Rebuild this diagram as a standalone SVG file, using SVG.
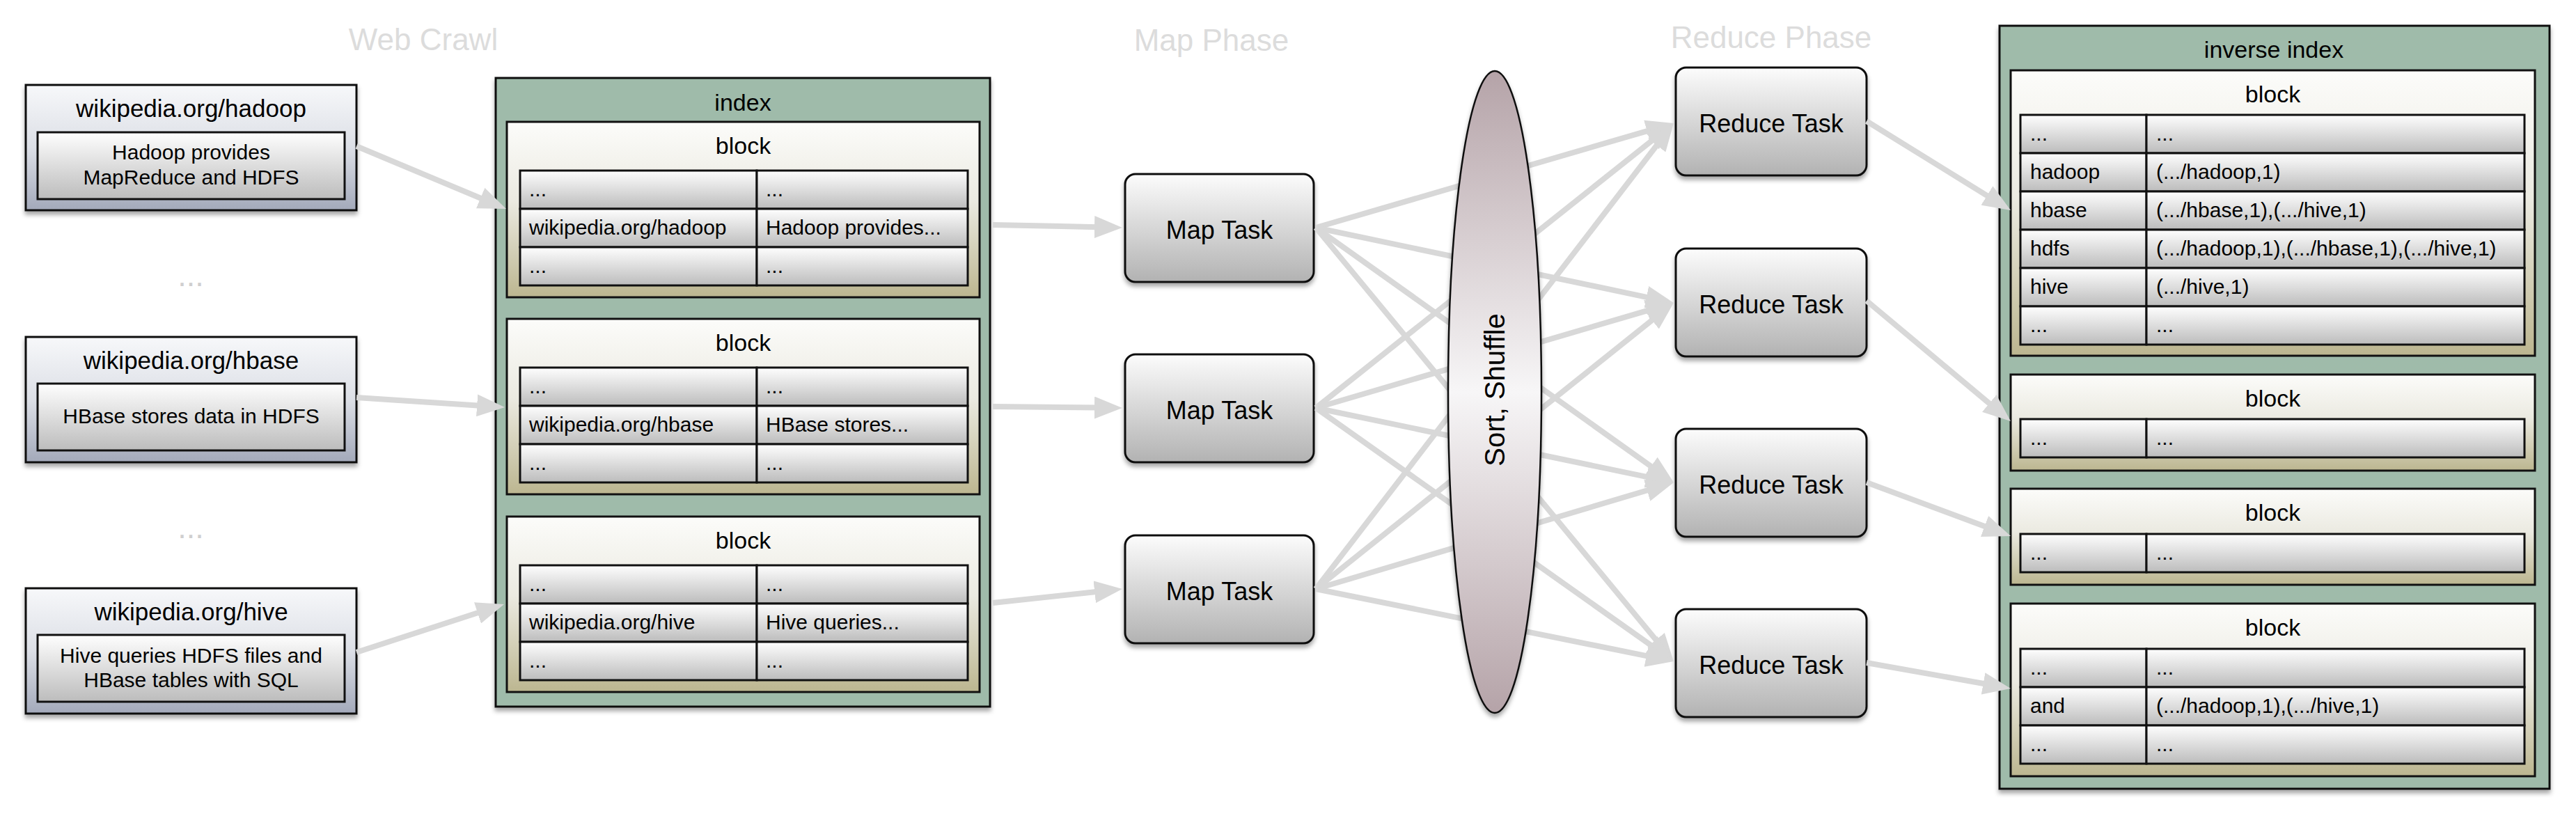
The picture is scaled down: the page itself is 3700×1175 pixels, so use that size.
<svg xmlns="http://www.w3.org/2000/svg" width="3700" height="1175" viewBox="0 0 3700 1175">
<defs>
<linearGradient id="srcGrad" x1="0" y1="0" x2="0" y2="1"><stop offset="0" stop-color="#f7f8fa"/><stop offset="0.5" stop-color="#dcdfe6"/><stop offset="1" stop-color="#a3a9ba"/></linearGradient>
<linearGradient id="cellGrad" x1="0" y1="0" x2="0" y2="1"><stop offset="0" stop-color="#fefefe"/><stop offset="1" stop-color="#bcbcbc"/></linearGradient>
<linearGradient id="taskGrad" x1="0" y1="0" x2="0" y2="1"><stop offset="0" stop-color="#fcfcfc"/><stop offset="1" stop-color="#b2b2b2"/></linearGradient>
<linearGradient id="blockGrad" x1="0" y1="0" x2="0" y2="1"><stop offset="0" stop-color="#fcfcfa"/><stop offset="0.45" stop-color="#ebeae1"/><stop offset="1" stop-color="#bcb690"/></linearGradient>
<linearGradient id="ellGrad" x1="0" y1="0" x2="0" y2="1"><stop offset="0" stop-color="#b5a3a8"/><stop offset="0.5" stop-color="#f7f6f7"/><stop offset="1" stop-color="#b5a3a8"/></linearGradient>
<filter id="shadow" x="-10%" y="-10%" width="120%" height="130%"><feDropShadow dx="0" dy="5" stdDeviation="3" flood-color="#000" flood-opacity="0.35"/></filter>
<marker id="arrow" markerUnits="userSpaceOnUse" markerWidth="40" markerHeight="32" refX="5" refY="16" orient="auto" viewBox="0 0 40 32"><path d="M0,0 L40,16 L0,32 z" fill="#d8d8d8"/></marker>
<style>
text{font-family:"Liberation Sans",Arial,Helvetica,sans-serif;fill:#000}
.phase{font-size:44px;fill:#dcdcdc;text-anchor:middle}
.dots{font-size:45px;fill:#cfcfcf;text-anchor:middle}
.src{fill:url(#srcGrad);stroke:#111;stroke-width:3;filter:url(#shadow)}
.inner{fill:url(#cellGrad);stroke:#111;stroke-width:3}
.cell{fill:url(#cellGrad);stroke:#111;stroke-width:3}
.cont{fill:#9fbbaa;stroke:#111;stroke-width:3;filter:url(#shadow)}
.blk{fill:url(#blockGrad);stroke:#111;stroke-width:3}
.task{fill:url(#taskGrad);stroke:#111;stroke-width:3;filter:url(#shadow)}
.ell{fill:url(#ellGrad);stroke:#111;stroke-width:2.5;filter:url(#shadow)}
.t35{font-size:35px;text-anchor:middle}
.t34{font-size:34px;text-anchor:middle}
.t30c{font-size:30px;text-anchor:middle}
.t30{font-size:30px}
.t36{font-size:36px;text-anchor:middle}
.t40{font-size:40px;text-anchor:middle}
.conn line{stroke:#d8d8d8;stroke-width:8;marker-end:url(#arrow)}
</style>
</defs>
<rect width="3700" height="1175" fill="#fff"/>

<g id="phase-titles">
<text class="phase" x="608" y="72">Web Crawl</text>
<text class="phase" x="1740" y="73">Map Phase</text>
<text class="phase" x="2544" y="69">Reduce Phase</text>
</g>

<g id="doc-hadoop">
<rect class="src" x="37" y="122" width="475" height="180"/>
<text class="t35" x="274.5" y="168">wikipedia.org/hadoop</text>
<rect class="inner" x="54" y="190" width="441" height="96"/>
<text class="t30c" x="274.5" y="229">Hadoop provides</text>
<text class="t30c" x="274.5" y="265">MapReduce and HDFS</text>
</g>
<text class="dots" x="274" y="411">...</text>
<g id="doc-hbase">
<rect class="src" x="37" y="484" width="475" height="180"/>
<text class="t35" x="274.5" y="530">wikipedia.org/hbase</text>
<rect class="inner" x="54" y="551" width="441" height="96"/>
<text class="t30c" x="274.5" y="608">HBase stores data in HDFS</text>
</g>
<text class="dots" x="274" y="773">...</text>
<g id="doc-hive">
<rect class="src" x="37" y="845" width="475" height="180"/>
<text class="t35" x="274.5" y="891">wikipedia.org/hive</text>
<rect class="inner" x="54" y="912" width="441" height="96"/>
<text class="t30c" x="274.5" y="952">Hive queries HDFS files and</text>
<text class="t30c" x="274.5" y="987">HBase tables with SQL</text>
</g>

<g id="index">
<rect class="cont" x="712" y="112" width="710" height="903"/>
<text class="t34" x="1067" y="159">index</text>
<g id="index-block-1">
<rect class="blk" x="728" y="175" width="679" height="252"/>
<text class="t34" x="1067.5" y="221">block</text>
<rect class="cell" x="747" y="245" width="340" height="55"/><rect class="cell" x="1087" y="245" width="303" height="55"/>
<rect class="cell" x="747" y="300" width="340" height="55"/><rect class="cell" x="1087" y="300" width="303" height="55"/>
<rect class="cell" x="747" y="355" width="340" height="55"/><rect class="cell" x="1087" y="355" width="303" height="55"/>
<text class="t30" x="760" y="282">...</text><text class="t30" x="1100" y="282">...</text>
<text class="t30" x="760" y="337">wikipedia.org/hadoop</text><text class="t30" x="1100" y="337">Hadoop provides...</text>
<text class="t30" x="760" y="392">...</text><text class="t30" x="1100" y="392">...</text>
</g>
<g id="index-block-2">
<rect class="blk" x="728" y="458" width="679" height="252"/>
<text class="t34" x="1067.5" y="504">block</text>
<rect class="cell" x="747" y="528" width="340" height="55"/><rect class="cell" x="1087" y="528" width="303" height="55"/>
<rect class="cell" x="747" y="583" width="340" height="55"/><rect class="cell" x="1087" y="583" width="303" height="55"/>
<rect class="cell" x="747" y="638" width="340" height="55"/><rect class="cell" x="1087" y="638" width="303" height="55"/>
<text class="t30" x="760" y="565">...</text><text class="t30" x="1100" y="565">...</text>
<text class="t30" x="760" y="620">wikipedia.org/hbase</text><text class="t30" x="1100" y="620">HBase stores...</text>
<text class="t30" x="760" y="675">...</text><text class="t30" x="1100" y="675">...</text>
</g>
<g id="index-block-3">
<rect class="blk" x="728" y="742" width="679" height="252"/>
<text class="t34" x="1067.5" y="788">block</text>
<rect class="cell" x="747" y="812" width="340" height="55"/><rect class="cell" x="1087" y="812" width="303" height="55"/>
<rect class="cell" x="747" y="867" width="340" height="55"/><rect class="cell" x="1087" y="867" width="303" height="55"/>
<rect class="cell" x="747" y="922" width="340" height="55"/><rect class="cell" x="1087" y="922" width="303" height="55"/>
<text class="t30" x="760" y="849">...</text><text class="t30" x="1100" y="849">...</text>
<text class="t30" x="760" y="904">wikipedia.org/hive</text><text class="t30" x="1100" y="904">Hive queries...</text>
<text class="t30" x="760" y="959">...</text><text class="t30" x="1100" y="959">...</text>
</g>
</g>

<g id="inverse-index">
<rect class="cont" x="2872" y="37" width="790" height="1096"/>
<text class="t34" x="3266" y="83">inverse index</text>
<g id="inv-block-1">
<rect class="blk" x="2888" y="101" width="753" height="410"/>
<text class="t34" x="3264.5" y="147">block</text>
<rect class="cell" x="2902" y="165" width="181" height="55"/><rect class="cell" x="3083" y="165" width="543" height="55"/>
<rect class="cell" x="2902" y="220" width="181" height="55"/><rect class="cell" x="3083" y="220" width="543" height="55"/>
<rect class="cell" x="2902" y="275" width="181" height="55"/><rect class="cell" x="3083" y="275" width="543" height="55"/>
<rect class="cell" x="2902" y="330" width="181" height="55"/><rect class="cell" x="3083" y="330" width="543" height="55"/>
<rect class="cell" x="2902" y="385" width="181" height="55"/><rect class="cell" x="3083" y="385" width="543" height="55"/>
<rect class="cell" x="2902" y="440" width="181" height="55"/><rect class="cell" x="3083" y="440" width="543" height="55"/>
<text class="t30" x="2916" y="202">...</text><text class="t30" x="3097" y="202">...</text>
<text class="t30" x="2916" y="257">hadoop</text><text class="t30" x="3097" y="257">(.../hadoop,1)</text>
<text class="t30" x="2916" y="312">hbase</text><text class="t30" x="3097" y="312">(.../hbase,1),(.../hive,1)</text>
<text class="t30" x="2916" y="367">hdfs</text><text class="t30" x="3097" y="367">(.../hadoop,1),(.../hbase,1),(.../hive,1)</text>
<text class="t30" x="2916" y="422">hive</text><text class="t30" x="3097" y="422">(.../hive,1)</text>
<text class="t30" x="2916" y="477">...</text><text class="t30" x="3097" y="477">...</text>
</g>
<g id="inv-block-2">
<rect class="blk" x="2888" y="538" width="753" height="138"/>
<text class="t34" x="3264.5" y="584">block</text>
<rect class="cell" x="2902" y="602" width="181" height="55"/><rect class="cell" x="3083" y="602" width="543" height="55"/>
<text class="t30" x="2916" y="639">...</text><text class="t30" x="3097" y="639">...</text>
</g>
<g id="inv-block-3">
<rect class="blk" x="2888" y="702" width="753" height="138"/>
<text class="t34" x="3264.5" y="748">block</text>
<rect class="cell" x="2902" y="767" width="181" height="55"/><rect class="cell" x="3083" y="767" width="543" height="55"/>
<text class="t30" x="2916" y="804">...</text><text class="t30" x="3097" y="804">...</text>
</g>
<g id="inv-block-4">
<rect class="blk" x="2888" y="867" width="753" height="248"/>
<text class="t34" x="3264.5" y="913">block</text>
<rect class="cell" x="2902" y="932" width="181" height="55"/><rect class="cell" x="3083" y="932" width="543" height="55"/>
<rect class="cell" x="2902" y="987" width="181" height="55"/><rect class="cell" x="3083" y="987" width="543" height="55"/>
<rect class="cell" x="2902" y="1042" width="181" height="55"/><rect class="cell" x="3083" y="1042" width="543" height="55"/>
<text class="t30" x="2916" y="969">...</text><text class="t30" x="3097" y="969">...</text>
<text class="t30" x="2916" y="1024">and</text><text class="t30" x="3097" y="1024">(.../hadoop,1),(.../hive,1)</text>
<text class="t30" x="2916" y="1079">...</text><text class="t30" x="3097" y="1079">...</text>
</g>
</g>

<g id="map-1"><rect class="task" x="1616" y="250" width="271" height="155" rx="15"/><text class="t36" x="1751.5" y="343">Map Task</text></g>
<g id="map-2"><rect class="task" x="1616" y="509" width="271" height="155" rx="15"/><text class="t36" x="1751.5" y="602">Map Task</text></g>
<g id="map-3"><rect class="task" x="1616" y="769" width="271" height="155" rx="15"/><text class="t36" x="1751.5" y="862">Map Task</text></g>

<g id="reduce-1"><rect class="task" x="2407" y="97" width="274" height="155" rx="15"/><text class="t36" x="2544" y="190">Reduce Task</text></g>
<g id="reduce-2"><rect class="task" x="2407" y="357" width="274" height="155" rx="15"/><text class="t36" x="2544" y="450">Reduce Task</text></g>
<g id="reduce-3"><rect class="task" x="2407" y="616" width="274" height="155" rx="15"/><text class="t36" x="2544" y="709">Reduce Task</text></g>
<g id="reduce-4"><rect class="task" x="2407" y="875" width="274" height="155" rx="15"/><text class="t36" x="2544" y="968">Reduce Task</text></g>

<g id="connectors" class="conn">
<line x1="512" y1="210" x2="694.7" y2="286.5"/>
<line x1="512" y1="571" x2="690.1" y2="582.7"/>
<line x1="512" y1="937" x2="690.7" y2="878.8"/>
<line x1="1426" y1="323" x2="1577" y2="326.2"/>
<line x1="1426" y1="584" x2="1577" y2="585.6"/>
<line x1="1426" y1="866" x2="1577.2" y2="849.7"/>
<line x1="1890" y1="327" x2="2370.4" y2="186.8"/>
<line x1="1890" y1="327" x2="2369.7" y2="427.8"/>
<line x1="1890" y1="327" x2="2375.5" y2="672.7"/>
<line x1="1890" y1="327" x2="2381.7" y2="923"/>
<line x1="1890" y1="586" x2="2376.6" y2="198.8"/>
<line x1="1890" y1="586" x2="2370.4" y2="444.9"/>
<line x1="1890" y1="586" x2="2369.7" y2="685.9"/>
<line x1="1890" y1="586" x2="2375.4" y2="929.8"/>
<line x1="1890" y1="846" x2="2382.7" y2="204.8"/>
<line x1="1890" y1="846" x2="2376.7" y2="456.9"/>
<line x1="1890" y1="846" x2="2370.5" y2="703"/>
<line x1="1890" y1="846" x2="2369.7" y2="943.1"/>
<line x1="2681" y1="174" x2="2858.2" y2="283.6"/>
<line x1="2681" y1="432" x2="2861.1" y2="582.6"/>
<line x1="2681" y1="693" x2="2855.2" y2="757.8"/>
<line x1="2681" y1="952" x2="2853.5" y2="982.8"/>
</g>

<g id="sort-shuffle">
<ellipse class="ell" cx="2147" cy="563" rx="67" ry="461"/>
<text class="t40" transform="translate(2161,560) rotate(-90)">Sort, Shuffle</text>
</g>
</svg>
